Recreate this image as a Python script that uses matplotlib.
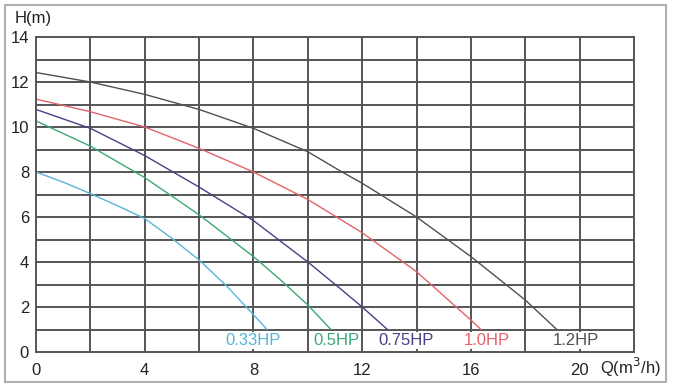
import matplotlib.pyplot as plt
from matplotlib.patches import Rectangle

plt.rcParams['font.family'] = ['Liberation Sans', 'DejaVu Sans']

# pump curves, flow Q (m3/h) vs head H (m)
q_033 = [0, 1, 2, 3, 4, 5, 6, 7, 8, 8.5]
h_033 = [8.0, 7.55, 7.04, 6.5, 5.93, 5.05, 4.09, 2.95, 1.66, 1.0]

q_05 = [0, 2, 4, 6, 8, 9, 10, 10.85]
h_05 = [10.27, 9.15, 7.75, 6.1, 4.24, 3.2, 2.09, 1.0]

q_075 = [0, 2, 4, 6, 8, 10, 11.23, 12, 12.93]
h_075 = [10.78, 9.94, 8.73, 7.33, 5.84, 4.0, 2.78, 2.0, 1.0]

q_10 = [0, 2, 4, 6, 8, 10, 12, 14, 16, 16.37]
h_10 = [11.24, 10.68, 10.0, 9.05, 8.0, 6.78, 5.3, 3.57, 1.42, 1.0]

q_12 = [0, 2, 4, 6, 8, 9, 10, 11.26, 12, 14, 16, 18, 19.16]
h_12 = [12.42, 12.0, 11.45, 10.78, 9.94, 9.42, 8.9, 8.0, 7.5, 6.0, 4.24, 2.31, 1.0]

labels = ['0.33HP', '0.5HP', '0.75HP', '1.0HP', '1.2HP']
label_q = [8.0, 11.05, 13.6, 16.6, 19.85]
colors = ['#58b4d8', '#3ea872', '#4a3f88', '#e2636a', '#505050']

x_ticks = [0, 4, 8, 12, 16, 20]
y_ticks = [0, 2, 4, 6, 8, 10, 12, 14]

grid_c = '#555555'

fig = plt.figure(figsize=(6.73, 3.88), dpi=100)
ax = fig.add_axes([36 / 673, 1 - 352 / 388, 598 / 673, 315 / 388])
ax.set_xlim(0, 22)
ax.set_ylim(0, 14)

# outer frame
fig.patches.append(Rectangle((5 / 673, 1 - 382 / 388), 661 / 673, 377 / 388,
                             transform=fig.transFigure, fill=False,
                             edgecolor='#b0b0b0', linewidth=1.5))

# grid: horizontal lines every 1 m
for h in range(1, 14):
    ax.axhline(h, color=grid_c, linewidth=1.4, zorder=1)
# vertical lines every 2 m3/h; the label strip only has some dividers
strip_div = [0, 2, 4, 6, 10, 12, 18]
for q in range(2, 22, 2):
    if q in strip_div:
        ax.axvline(q, color=grid_c, linewidth=1.4, zorder=1)
    else:
        ax.vlines(q, 1, 14, color=grid_c, linewidth=1.4, zorder=1)
        ax.vlines(q, 0, 0.12, color=grid_c, linewidth=1.4, zorder=1)
        ax.vlines(q, 0.88, 1, color=grid_c, linewidth=1.4, zorder=1)

for s in ax.spines.values():
    s.set_color(grid_c)
    s.set_linewidth(1.4)

series = [(q_033, h_033), (q_05, h_05), (q_075, h_075), (q_10, h_10), (q_12, h_12)]
for (q, h), c in zip(series, colors):
    ax.plot(q, h, color=c, linewidth=1.0, zorder=2)

for lab, lq, c in zip(labels, label_q, colors):
    ax.text(lq, 0.5, lab, color=c, fontsize=12, ha='center', va='center')

ax.set_xticks(x_ticks)
ax.set_yticks(y_ticks)
ax.tick_params(length=0, labelsize=12, colors='#222222', pad=8)
ax.tick_params(axis='y', pad=5)

fig.text(15 / 673, 1 - 18 / 388, 'H(m)', fontsize=12, ha='left', va='center', color='#222222')
fig.text(600 / 673, 1 - 367 / 388, 'Q(m$^3$/h)', fontsize=12, ha='left', va='center', color='#222222')

fig.savefig('out.png', dpi=100)
